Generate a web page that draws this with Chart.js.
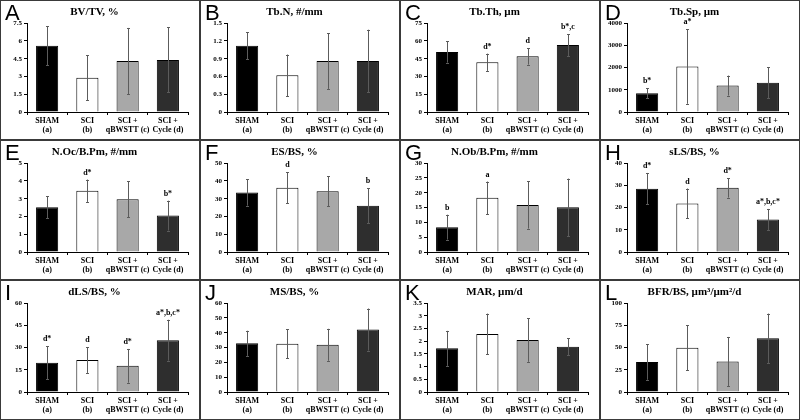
<!DOCTYPE html>
<html>
<head>
<meta charset="utf-8">
<script src="https://cdn.jsdelivr.net/npm/chart.js@4"></script>
<style>
  html, body { margin: 0; padding: 0; background: #fff; }
  #grid {
    width: 800px; height: 420px;
    display: grid;
    grid-template-columns: repeat(4, 200px);
    grid-template-rows: repeat(3, 140px);
  }
  .panel { position: relative; box-sizing: border-box; border: 1px solid #3a3a3a; width: 200px; height: 140px; }
  .panel canvas { position: absolute; left: 0; top: 0; }
</style>
</head>
<body>
<div id="grid"></div>
<script>
// groups (x axis)
const groups = [["SHAM", "(a)"], ["SCI", "(b)"], ["SCI +", "qBWSTT (c)"], ["SCI +", "Cycle (d)"]];

// means, SD and significance labels
const bvtvMean = [5.6, 2.9, 4.3, 4.4];
const bvtvSd = [1.65, 1.9, 2.8, 2.75];
const tbnMean = [1.12, 0.62, 0.86, 0.86];
const tbnSd = [0.23, 0.35, 0.47, 0.53];
const tbthMean = [50.7, 42, 47, 56.5];
const tbthSd = [9, 7.3, 7, 9.2];
const tbthSig = ["", "d*", "d", "b*,c"];
const tbspMean = [840, 2050, 1190, 1320];
const tbspSd = [230, 1680, 450, 690];
const tbspSig = ["b*", "a*", "", ""];
const nocMean = [2.52, 3.45, 2.97, 2.05];
const nocSd = [0.63, 0.63, 1.02, 0.84];
const nocSig = ["", "d*", "", "b*"];
const esbsMean = [33.5, 36.2, 34.2, 26.1];
const esbsSd = [7.4, 8.8, 8.4, 9.8];
const esbsSig = ["", "d", "", "b"];
const nobMean = [8.4, 18.3, 15.9, 15.1];
const nobSd = [4.2, 5.5, 8, 9.7];
const nobSig = ["b", "a", "", ""];
const slsMean = [28.5, 21.9, 28.9, 14.6];
const slsSd = [7.1, 6.7, 4.4, 4.8];
const slsSig = ["d*", "d", "d*", "a*,b,c*"];
const dlsMean = [19.8, 21.6, 17.7, 35];
const dlsSd = [11, 8.7, 11.4, 13.8];
const dlsSig = ["d*", "d", "d*", "a*,b,c*"];
const msMean = [32.9, 32.6, 31.9, 42.2];
const msSd = [8.5, 9.8, 10.8, 14.2];
const marMean = [1.72, 2.29, 2.05, 1.78];
const marSd = [0.69, 0.8, 0.86, 0.33];
const bfrMean = [33.8, 49.8, 34.4, 60.5];
const bfrSd = [20, 25.5, 27.6, 27.8];
const noSig = ["", "", "", ""];

const panels = [
  { letter: "A", title: "BV/TV, %", mean: bvtvMean, sd: bvtvSd, sig: noSig, max: 7.5, step: 1.5 },
  { letter: "B", title: "Tb.N, #/mm", mean: tbnMean, sd: tbnSd, sig: noSig, max: 1.5, step: 0.3 },
  { letter: "C", title: "Tb.Th, µm", mean: tbthMean, sd: tbthSd, sig: tbthSig, max: 75, step: 15 },
  { letter: "D", title: "Tb.Sp, µm", mean: tbspMean, sd: tbspSd, sig: tbspSig, max: 4000, step: 1000 },
  { letter: "E", title: "N.Oc/B.Pm, #/mm", mean: nocMean, sd: nocSd, sig: nocSig, max: 5, step: 1 },
  { letter: "F", title: "ES/BS, %", mean: esbsMean, sd: esbsSd, sig: esbsSig, max: 50, step: 10 },
  { letter: "G", title: "N.Ob/B.Pm, #/mm", mean: nobMean, sd: nobSd, sig: nobSig, max: 30, step: 5 },
  { letter: "H", title: "sLS/BS, %", mean: slsMean, sd: slsSd, sig: slsSig, max: 40, step: 10 },
  { letter: "I", title: "dLS/BS, %", mean: dlsMean, sd: dlsSd, sig: dlsSig, max: 60, step: 15 },
  { letter: "J", title: "MS/BS, %", mean: msMean, sd: msSd, sig: noSig, max: 60, step: 10 },
  { letter: "K", title: "MAR, µm/d", mean: marMean, sd: marSd, sig: noSig, max: 3.5, step: 0.5 },
  { letter: "L", title: "BFR/BS, µm³/µm²/d", mean: bfrMean, sd: bfrSd, sig: noSig, max: 100, step: 25 },
];

const barColors = ["#000000", "#ffffff", "#a8a8a8", "#2e2e2e"];
const serif = '"Liberation Serif", "Times New Roman", serif';

// SD whiskers + significance letters, drawn from the y scale
const errorBars = {
  id: "errorBars",
  afterDatasetsDraw(chart, args, opts) {
    const ctx = chart.ctx;
    const y = chart.scales.y;
    const meta = chart.getDatasetMeta(0);
    const values = chart.data.datasets[0].data;
    ctx.save();
    meta.data.forEach((bar, i) => {
      const m = values[i], s = opts.sd[i];
      const x = Math.round(bar.x) + 0.5;
      const top = y.getPixelForValue(m + s);
      const bot = y.getPixelForValue(Math.max(0, m - s));
      ctx.strokeStyle = "#5c5c5c";
      ctx.lineWidth = 1;
      ctx.beginPath();
      ctx.moveTo(x, top); ctx.lineTo(x, bot);
      ctx.moveTo(x - 1.5, Math.round(top) + 0.5); ctx.lineTo(x + 1.5, Math.round(top) + 0.5);
      ctx.moveTo(x - 1.5, Math.round(bot) + 0.5); ctx.lineTo(x + 1.5, Math.round(bot) + 0.5);
      ctx.stroke();
      if (opts.sig[i]) {
        ctx.fillStyle = "#000";
        ctx.font = "bold 8px " + serif;
        ctx.textAlign = "center";
        ctx.textBaseline = "bottom";
        ctx.fillText(opts.sig[i], bar.x, top - 3);
      }
    });
    ctx.restore();
  }
};

// big panel letter in the top-left corner
const panelLetter = {
  id: "panelLetter",
  afterDraw(chart, args, opts) {
    const ctx = chart.ctx;
    ctx.save();
    ctx.fillStyle = "#000";
    ctx.font = '22px "Liberation Sans", Arial, sans-serif';
    ctx.textAlign = "left";
    ctx.textBaseline = "alphabetic";
    ctx.fillText(opts.text, 4, 19);
    ctx.restore();
  }
};

const grid = document.getElementById("grid");
panels.forEach(p => {
  const div = document.createElement("div");
  div.className = "panel";
  const cv = document.createElement("canvas");
  cv.width = 198; cv.height = 138;
  div.appendChild(cv);
  grid.appendChild(div);

  new Chart(cv, {
    type: "bar",
    data: {
      labels: groups,
      datasets: [{
        data: p.mean,
        backgroundColor: barColors,
        borderColor: "#000",
        borderWidth: 1,
        barPercentage: 0.55,
        categoryPercentage: 1,
      }],
    },
    options: {
      responsive: false,
      animation: false,
      layout: { padding: { left: 0, right: 11, top: 0, bottom: 0 } },
      plugins: {
        legend: { display: false },
        tooltip: { enabled: false },
        title: {
          display: true,
          text: p.title,
          color: "#000",
          font: { family: serif, size: 11, weight: "bold" },
          padding: { top: 5, bottom: 4 },
        },
        errorBars: { sd: p.sd, sig: p.sig },
        panelLetter: { text: p.letter },
      },
      scales: {
        x: {
          grid: { display: true, drawOnChartArea: false, drawTicks: true, tickLength: 3, color: "#000", offset: true },
          border: { color: "#000", width: 1 },
          ticks: {
            color: "#000",
            font: { family: serif, size: 8, weight: "bold", lineHeight: 1.05 },
            padding: 2,
            maxRotation: 0,
            autoSkip: false,
          },
          afterFit(scale) { scale.height = 27; },
        },
        y: {
          min: 0,
          max: p.max,
          grid: { display: true, drawOnChartArea: false, drawTicks: true, tickLength: 3, color: "#000" },
          border: { color: "#000", width: 1 },
          ticks: {
            stepSize: p.step,
            color: "#000",
            font: { family: serif, size: 7, weight: "bold" },
            padding: 2,
            callback: v => String(Number(v.toFixed(2))),
          },
          afterFit(scale) { scale.width = 26; },
        },
      },
    },
    plugins: [errorBars, panelLetter],
  });
});
</script>
</body>
</html>
